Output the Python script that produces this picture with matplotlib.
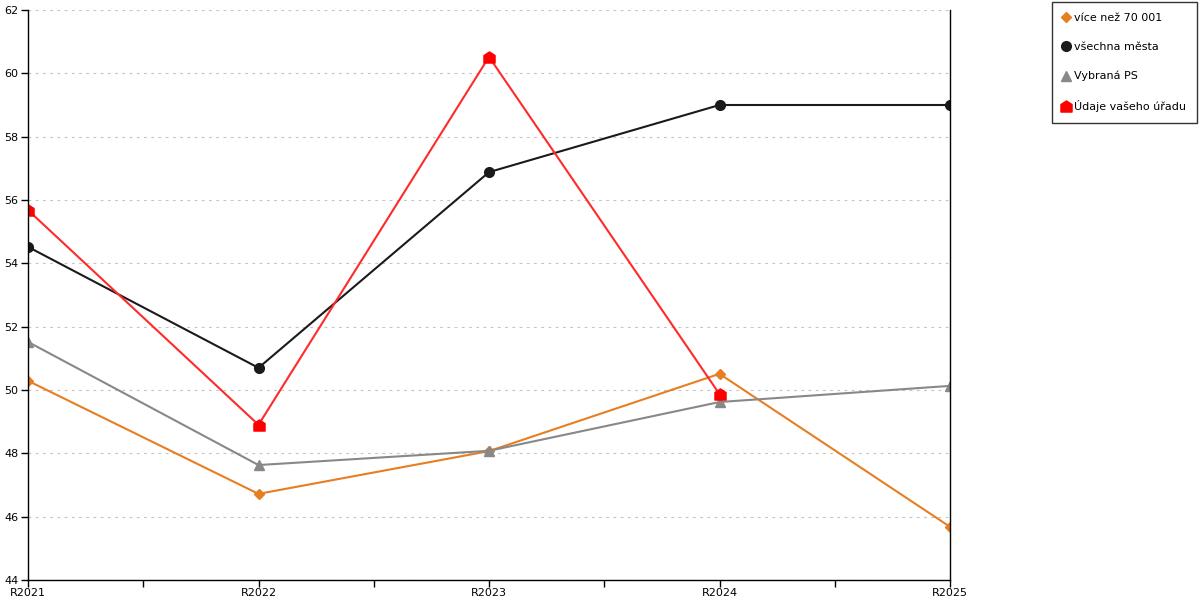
import matplotlib.pyplot as plt
import numpy as np
from matplotlib.path import Path

years = ['R2021', 'R2022', 'R2023', 'R2024', 'R2025']
vice_nez = [50.29, 46.72, 48.07, 50.51, 45.68]
vsechna_mesta = [54.52, 50.70, 56.88, 59.0, 59.0]
vybrana_ps = [51.52, 47.63, 48.08, 49.62, 50.13]
vas_urad = [55.68, 48.90, 60.52, 49.87]

# house-shaped marker for the red series
house = Path([(-1, -1), (1, -1), (1, 0.35), (0, 1), (-1, 0.35), (-1, -1)],
             [Path.MOVETO] + [Path.LINETO] * 4 + [Path.CLOSEPOLY])

plt.rcParams['font.family'] = ['DejaVu Sans']

fig = plt.figure(figsize=(12, 6), dpi=100)
ax = fig.add_axes([28 / 1200, 20 / 600, 922 / 1200, 570 / 600])

x = np.arange(len(years))
ax.plot(x, vice_nez, color='#e67e22', marker='D', markersize=5, lw=1.5,
        label='více než 70 001')
ax.plot(x, vsechna_mesta, color='#1a1a1a', marker='o', markersize=7, lw=1.5,
        label='všechna města')
ax.plot(x, vybrana_ps, color='#888888', marker='^', markersize=7, lw=1.5,
        label='Vybraná PS')
ax.plot(x[:len(vas_urad)], vas_urad, color='#ff2a2a', marker=house, markersize=8,
        markerfacecolor='#ff0000', markeredgecolor='#ff0000', lw=1.5,
        label='Údaje vašeho úřadu')

ax.set_xlim(0, 4)
ax.set_ylim(44, 62)
ax.set_yticks(np.arange(44, 63, 2))
ax.set_xticks(x)
ax.set_xticklabels(years)
ax.set_xticks(x[:-1] + 0.5, minor=True)
ax.tick_params(axis='both', which='both', labelsize=8, direction='out', length=5,
               width=1, colors='black', pad=2)
ax.tick_params(axis='x', which='major', pad=1)
ax.grid(axis='y', color='#c4c4c4', linestyle=(0, (2.5, 4)), lw=0.8)
ax.set_axisbelow(True)
ax.spines['top'].set_visible(False)
for s in ['left', 'right', 'bottom']:
    ax.spines[s].set_color('black')
    ax.spines[s].set_linewidth(1)

leg = fig.legend(loc='upper right', bbox_to_anchor=(1197 / 1200, 1 - 2 / 600),
                 fontsize=8, frameon=True, fancybox=False, edgecolor='black',
                 handlelength=0.6, handletextpad=0.4, labelspacing=1.7,
                 borderpad=1.0, borderaxespad=0)
leg.get_frame().set_linewidth(1)
for h in leg.legend_handles:
    h.set_linestyle('none')

fig.savefig('out.png', dpi=100)
